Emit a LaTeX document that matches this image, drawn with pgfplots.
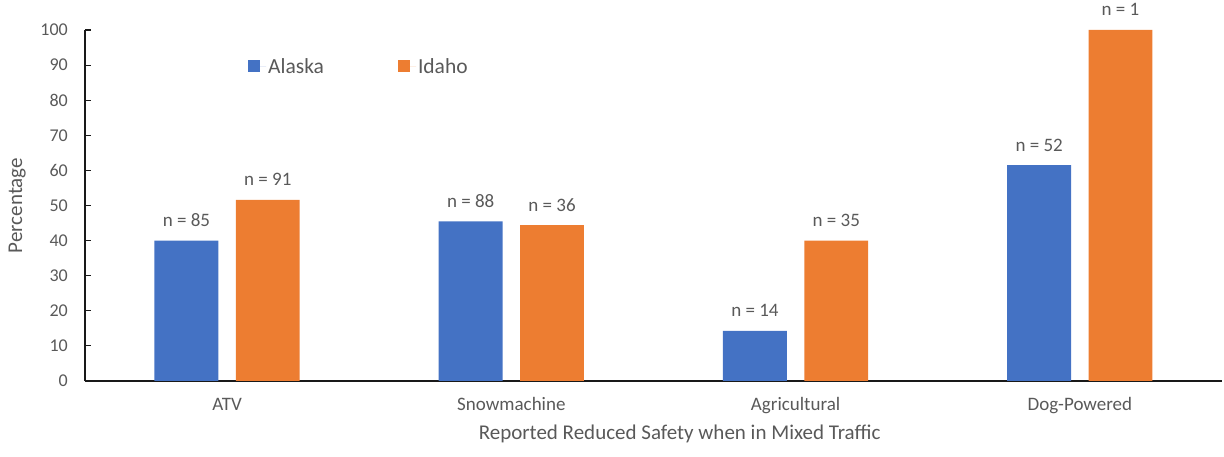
\documentclass[border=0pt]{standalone}
\usepackage{pgfplots}
\pgfplotsset{compat=1.18}
\usepackage{fontspec}
\setmainfont{Carlito}
\definecolor{alaska}{HTML}{4472C4}
\definecolor{idaho}{HTML}{ED7D31}
\definecolor{txt}{HTML}{595959}
\begin{document}
\begin{tikzpicture}
\begin{axis}[
  scale only axis,
  width=1137bp, height=351bp,
  at={(85bp,76bp)}, anchor=south west,
  xmin=-0.5, xmax=3.5, ymin=0, ymax=100,
  ytick={0,10,...,100},
  xtick={0,1,2,3},
  xticklabels={ATV,Snowmachine,Agricultural,Dog-Powered},
  axis lines*=left,
  axis line style={black!90, line width=1.1bp},
  major tick length=6bp,
  tick align=inside,
  ytick style={black!90, line width=1.1bp},
  xtick style={draw=none},
  /pgf/number format/assume math mode=true,
  yticklabel style={font=\fontsize{18bp}{20bp}\selectfont, text=txt, anchor=east, inner sep=0pt, xshift=-17bp},
  xticklabel style={font=\fontsize{19bp}{21bp}\selectfont, text=txt, anchor=base, inner sep=0pt, yshift=-23bp},
  xlabel={Reported Reduced Safety when in Mixed Traffic},
  xlabel style={font=\fontsize{21bp}{23bp}\selectfont, text=txt, at={(axis description cs:0.523,0)}, anchor=base, inner sep=0pt, yshift=-58bp},
  ylabel={Percentage},
  ylabel style={font=\fontsize{21bp}{23bp}\selectfont, text=txt, at={(axis description cs:-0.0554,0.5)}, anchor=base, inner sep=0pt},
  ybar, bar width=0.225,
  point meta=explicit symbolic,
  nodes near coords={n = \pgfplotspointmeta},
  every node near coord/.append style={font=\fontsize{19bp}{21bp}\selectfont, text=txt, anchor=base, inner sep=0pt, yshift=14bp},
  legend columns=2,
  legend style={draw=none, fill=none, at={(axis description cs:0.1434,0.926)}, anchor=north west,
    font=\fontsize{21.5bp}{24bp}\selectfont, text=txt, inner sep=0pt, column sep=0pt,
    /tikz/every even column/.append style={column sep=72bp}},
  legend cell align=left,
  legend image code/.code={\fill[#1] (0bp,-6bp) rectangle (12bp,6bp); \path (0bp,0bp) -- (18bp,0bp);},
]
\addplot[fill=alaska, draw=none, bar shift=-0.143] coordinates {
  (0,40.0) [85]
  (1,45.5) [88]
  (2,14.3) [14]
  (3,61.5) [52]
};
\addplot[fill=idaho, draw=none, bar shift=0.143] coordinates {
  (0,51.6) [91]
  (1,44.4) [36]
  (2,40.0) [35]
  (3,100) [1]
};
\legend{Alaska,Idaho}
\end{axis}
\pgfresetboundingbox
\useasboundingbox (0,0) rectangle (1224bp,457bp);
\end{tikzpicture}
\end{document}
